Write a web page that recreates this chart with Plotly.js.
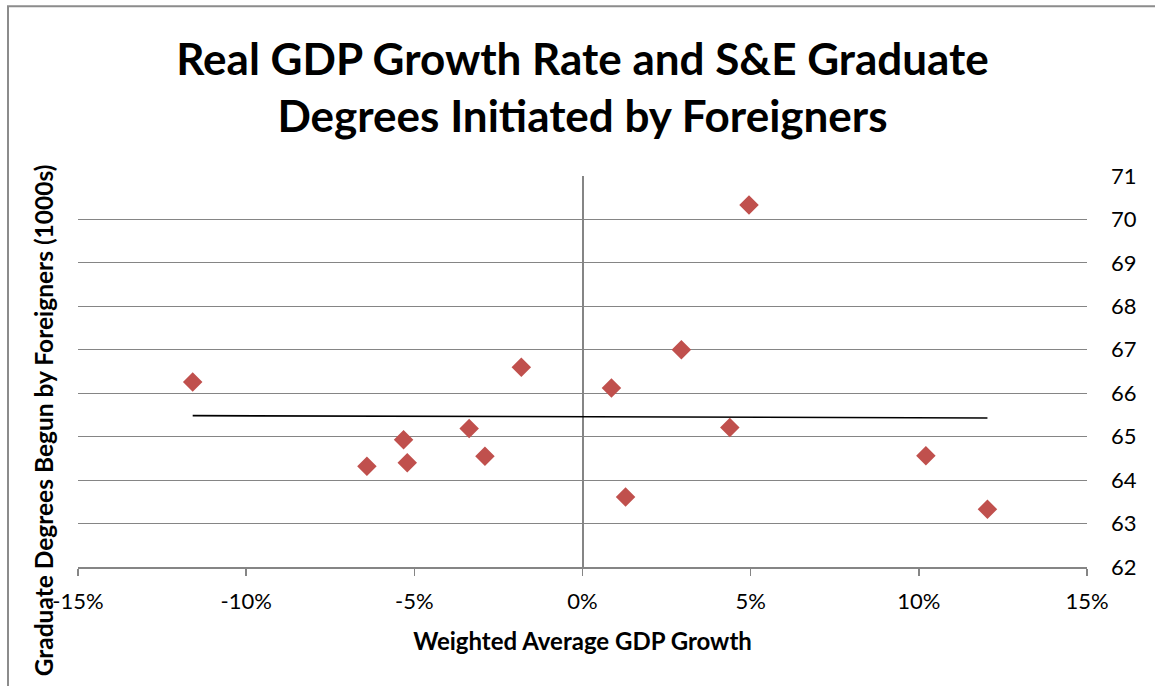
<!DOCTYPE html>
<html>
<head>
<meta charset="utf-8">
<script src="https://cdn.plot.ly/plotly-3.0.1.min.js"></script>
<style>html,body{margin:0;padding:0;background:#fff;}#chart{width:1155px;height:686px;}</style>
</head>
<body>
<div id="chart"></div>
<script>
// Weighted average GDP growth (fraction) and graduate degrees begun by foreigners (1000s)
const gdpGrowth = [-0.1159, -0.0641, -0.0532, -0.0521, -0.0337, -0.0290, -0.0182, 0.0086, 0.0128, 0.0294, 0.0438, 0.0495, 0.1021, 0.1204];
const degrees   = [66.26, 64.32, 64.93, 64.40, 65.19, 64.55, 66.60, 66.12, 63.61, 67.00, 65.21, 70.33, 64.56, 63.33];
const xTickVals = [-0.15, -0.10, -0.05, 0, 0.05, 0.10, 0.15];
const xTickText = ["-15%", "-10%", "-5%", "0%", "5%", "10%", "15%"];
const yTickVals = [62, 63, 64, 65, 66, 67, 68, 69, 70, 71];

// Linear trendline (least squares) from the data
const n = gdpGrowth.length;
const mx = gdpGrowth.reduce((a, b) => a + b, 0) / n;
const my = degrees.reduce((a, b) => a + b, 0) / n;
let sxy = 0, sxx = 0;
for (let i = 0; i < n; i++) { sxy += (gdpGrowth[i] - mx) * (degrees[i] - my); sxx += (gdpGrowth[i] - mx) ** 2; }
const slope = sxy / sxx, intercept = my - slope * mx;
const xMin = Math.min(...gdpGrowth), xMax = Math.max(...gdpGrowth);
const trendX = [xMin, xMax];
const trendY = trendX.map(v => intercept + slope * v);

const FONT = "Lato, 'Open Sans', sans-serif";
const GRID = "#858585";

const traces = [
  { x: trendX, y: trendY, type: "scatter", mode: "lines", line: { color: "#000000", width: 1.6 }, hoverinfo: "skip", showlegend: false },
  { x: gdpGrowth, y: degrees, type: "scatter", mode: "markers",
    marker: { symbol: "diamond", size: 15, color: "#C0504D", line: { width: 0 } }, showlegend: false }
];

const layout = {
  width: 1155, height: 686,
  margin: { l: 78, r: 68, t: 176, b: 119 },
  paper_bgcolor: "#ffffff", plot_bgcolor: "#ffffff",
  font: { family: FONT, color: "#000000" },
  title: { text: "Real GDP Growth Rate and S&E Graduate<br>Degrees Initiated by Foreigners",
    font: { family: FONT, size: 44, color: "#000000", weight: "bold" },
    x: 0.5, xref: "paper", xanchor: "center", y: 1 - 75 / 686, yref: "container", yanchor: "middle" },
  xaxis: {
    range: [-0.15, 0.15], tickvals: xTickVals, ticktext: xTickText,
    showgrid: false, zeroline: true, zerolinecolor: GRID, zerolinewidth: 2,
    showline: true, linecolor: GRID, linewidth: 1.5,
    ticks: "outside", ticklen: 7, tickcolor: GRID, tickwidth: 1.5,
    tickfont: { family: FONT, size: 22, color: "#000000" }, ticklabelstandoff: 7,
    title: { text: "Weighted Average GDP Growth", font: { family: FONT, size: 24, color: "#000000", weight: "bold" }, standoff: 20 }
  },
  yaxis: {
    range: [62, 71], tickvals: yTickVals, side: "right",
    showgrid: true, gridcolor: GRID, gridwidth: 1.2, zeroline: false, showline: false, ticks: "",
    tickfont: { family: FONT, size: 22, color: "#000000" }, ticklabelstandoff: 23
  },
  yaxis2: {
    overlaying: "y", anchor: "free", position: 0.5, side: "left",
    range: [62, 71], tickvals: yTickVals, showgrid: false, zeroline: false,
    showline: true, linecolor: GRID, linewidth: 2,
    ticks: "outside", ticklen: 7, tickcolor: GRID, tickwidth: 1.5, showticklabels: false
  },
  annotations: [
    { text: "Graduate Degrees Begun by Foreigners (1000s)", textangle: -90,
      xref: "paper", yref: "paper", x: (43 - 78) / 1009, y: (566.7 - 420) / 391,
      xanchor: "center", yanchor: "middle", showarrow: false,
      font: { family: FONT, size: 24.5, color: "#000000", weight: "bold" } }
  ],
  shapes: [
    { type: "rect", xref: "paper", yref: "paper",
      x0: (8 - 78) / 1009, x1: 1.3, y0: -0.5, y1: (566.7 - 6) / 391,
      line: { color: "#8c8c8c", width: 2 }, fillcolor: "rgba(0,0,0,0)", layer: "below" }
  ]
};

Plotly.newPlot("chart", traces, layout, { displayModeBar: false, staticPlot: true });
</script>
</body>
</html>
